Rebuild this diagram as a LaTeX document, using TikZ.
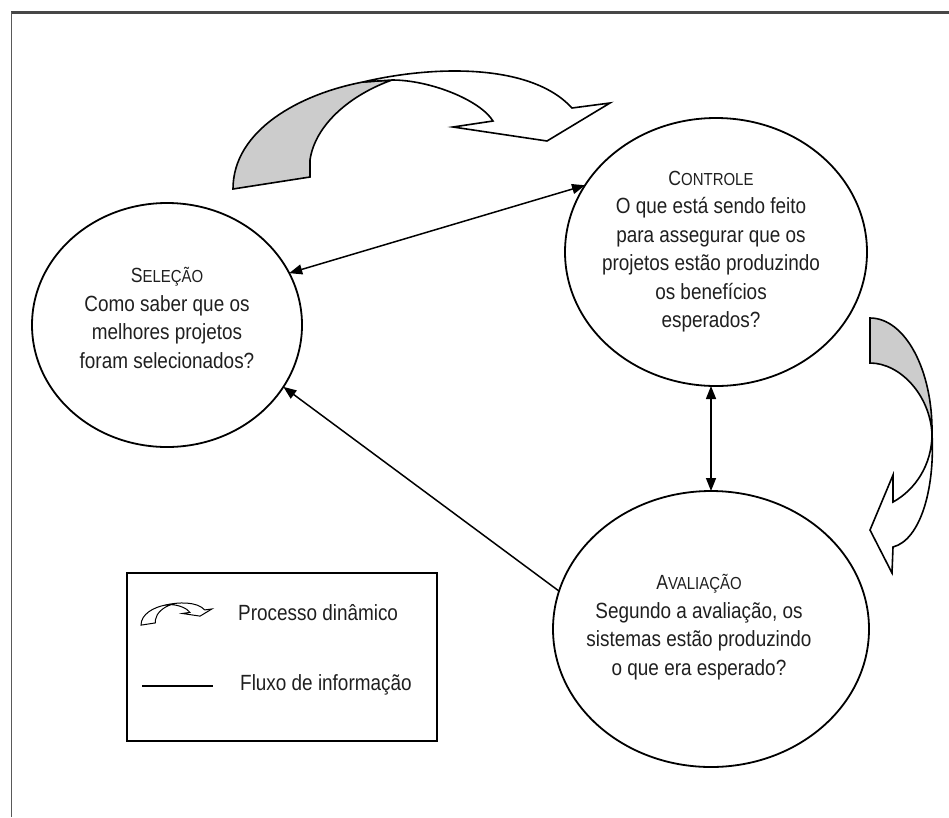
\documentclass[tikz,border=0pt]{standalone}
\usepackage{fontspec}
\setmainfont[FakeStretch=0.86]{Liberation Sans}
\usetikzlibrary{arrows.meta,shapes.geometric}
\newcommand{\hdsc}[2]{{\fontsize{20.5}{28.5}\selectfont #1\fontsize{17.4}{28.5}\selectfont #2}}
\begin{document}
\begin{tikzpicture}[x=1pt,y=-1pt,
  bubble/.style={draw, ellipse, line width=1.8pt, inner sep=0pt, outer sep=0pt},
  txt/.style={align=center, font=\fontsize{22}{28.5}\selectfont, inner sep=0pt, text=black!88},
  ltxt/.style={anchor=west, font=\fontsize{22}{28.5}\selectfont, inner sep=0pt, text=black!88},
  flow/.style={line width=1.5pt, -{Triangle[length=13pt,width=10pt]}},
  flowboth/.style={line width=1.5pt, {Triangle[length=13pt,width=10pt]}-{Triangle[length=13pt,width=10pt]}},
  band/.style={draw, line width=1.6pt, line join=miter},
  backface/.style={band, fill=black!20},
  frontface/.style={band, fill=white}
]
\useasboundingbox (0,0) rectangle (949,817);
% frame
\draw[line width=3.5pt, color=black!72] (11,12.5) -- (949,12.5);
\draw[line width=1pt, color=black!65] (11,12) -- (11,817);

% ellipses
\node[bubble, minimum width=270pt, minimum height=244pt] (sel) at (167,325) {};
\node[bubble, minimum width=302pt, minimum height=268pt] (ctl) at (716,252) {};
\node[bubble, minimum width=316pt, minimum height=276pt] (ava) at (711,629) {};

\node[txt] (selt) at (167,318) {\hdsc{S}{ELEÇÃO}\\Como saber que os\\melhores projetos\\foram selecionados?};
\node[txt] (ctlt) at (711,251.5) {\hdsc{C}{ONTROLE}\\O que está sendo feito\\para assegurar que os\\projetos estão produzindo\\os benefícios\\esperados?};
\node[txt] (avat) at (699,627) {\hdsc{A}{VALIAÇÃO}\\Segundo a avaliação, os\\sistemas estão produzindo\\o que era esperado?};

% information flow
\draw[flowboth] (sel.23.4) -- (ctl.153.4);
\draw[flow] (ava.166.7) -- (sel.-28.6);
\draw[flowboth] (ctl.south -| ava.north) -- (ava.north);

% dynamic process arrows
\path[backface] (233,189) -- (310,177) -- (310,160) .. controls (315,125) and (350,95) .. (392,80) -- (363,82) .. controls (300,94) and (233,130) .. (233,189) -- cycle;
\path[frontface] (363,82) .. controls (430,66) and (530,62) .. (572,108) -- (610,103) -- (547,141) -- (453,127) -- (493,121) .. controls (480,100) and (430,80) .. (392,80) -- cycle;

\path[backface] (870,318) -- (870,363) .. controls (900,363) and (930,395) .. (932,434) .. controls (933,370) and (905,318) .. (870,318) -- cycle;
\path[frontface] (932,434) .. controls (935,490) and (920,540) .. (893,547) -- (892,573) -- (870,530) -- (893,475) -- (893,502) .. controls (915,490) and (932,465) .. (932,434) -- cycle;

% legend
\node[draw, line width=1.2pt, minimum width=310pt, minimum height=168pt, inner sep=0pt] (legend) at (282,657) {};
\begin{scope}[shift={(97.2,589.6)}, scale=0.188]
\path[band, line width=1pt, fill=white] (233,189) -- (310,177) -- (310,160) .. controls (315,125) and (350,95) .. (392,80) -- (363,82) .. controls (300,94) and (233,130) .. (233,189) -- cycle;
\path[band, line width=1pt, fill=white] (363,82) .. controls (430,66) and (530,62) .. (572,108) -- (610,103) -- (547,141) -- (453,127) -- (493,121) .. controls (480,100) and (430,80) .. (392,80) -- cycle;
\end{scope}
\node[ltxt] (lproc) at (238,613) {Processo dinâmico};
\coordinate (la) at (142,686);
\coordinate (lb) at (213,686);
\draw[line width=1.2pt] (la) -- (lb);
\node[ltxt] (lflux) at (240,685) {Fluxo de informação};
\end{tikzpicture}
\end{document}
